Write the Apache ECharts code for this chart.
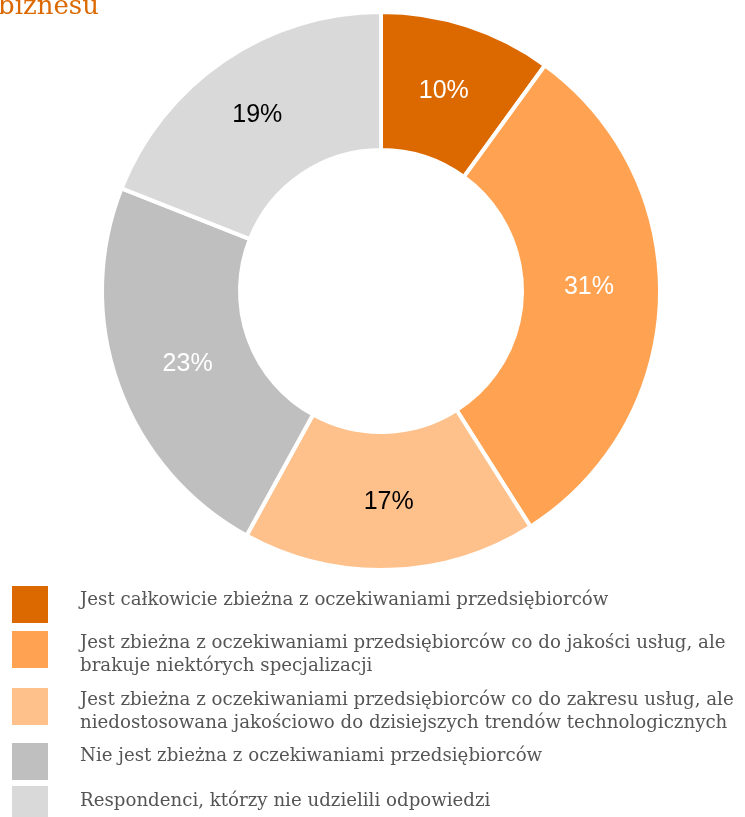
<!DOCTYPE html>
<html>
<head>
<meta charset="utf-8">
<script src="https://cdn.jsdelivr.net/npm/echarts@6/dist/echarts.min.js"></script>
<style>
html,body{margin:0;padding:0;background:#fff;}
#chart{width:745px;height:817px;}
</style>
</head>
<body>
<div id="chart"></div>
<script>
var titleText = 'biznesu';
var categories = [
  'Jest całkowicie zbieżna z oczekiwaniami przedsiębiorców',
  'Jest zbieżna z oczekiwaniami przedsiębiorców co do jakości usług, ale\nbrakuje niektórych specjalizacji',
  'Jest zbieżna z oczekiwaniami przedsiębiorców co do zakresu usług, ale\nniedostosowana jakościowo do dzisiejszych trendów technologicznych',
  'Nie jest zbieżna z oczekiwaniami przedsiębiorców',
  'Respondenci, którzy nie udzielili odpowiedzi'
];
var values = [10, 31, 17, 23, 19];
var colors = ['#DC6900', '#FFA352', '#FFC18C', '#BFBFBF', '#D9D9D9'];
var labelColors = ['#ffffff', '#ffffff', '#000000', '#ffffff', '#000000'];
var labelOffsets = [[-3, 3], [-5, -11], [1, -2], [7, 1], [-4, 0]];

var legendBoxTop = [586, 631, 688, 743, 786];
var legendTextY = [600, 655, 712, 756, 801];

var chart = echarts.init(document.getElementById('chart'));

var graphics = [{
  type: 'text', left: -2, top: -6,
  style: { text: titleText, fill: '#DC6900', font: '26px "DejaVu Serif", serif' }
}];
categories.forEach(function (c, i) {
  graphics.push({
    type: 'rect',
    shape: { x: 12, y: legendBoxTop[i], width: 36, height: 37 },
    style: { fill: colors[i] }
  });
  graphics.push({
    type: 'text', x: 80, y: legendTextY[i],
    style: {
      text: c, fill: '#555555', font: '18.2px "DejaVu Serif", serif',
      verticalAlign: 'middle', lineHeight: 23
    }
  });
});

chart.setOption({
  animation: false,
  graphic: graphics,
  series: [{
    type: 'pie',
    center: [381, 291],
    radius: [141, 279],
    startAngle: 90,
    clockwise: true,
    itemStyle: { borderColor: '#ffffff', borderWidth: 4 },
    label: {
      position: 'inside',
      fontFamily: 'Arial, "Liberation Sans", sans-serif',
      fontSize: 25,
      fontWeight: 'normal',
      textBorderWidth: 0,
      formatter: '{c}%'
    },
    labelLine: { show: false },
    emphasis: { disabled: true },
    data: values.map(function (v, i) {
      return {
        value: v, name: categories[i],
        itemStyle: { color: colors[i] },
        label: { color: labelColors[i], offset: labelOffsets[i] }
      };
    })
  }]
});
</script>
</body>
</html>
